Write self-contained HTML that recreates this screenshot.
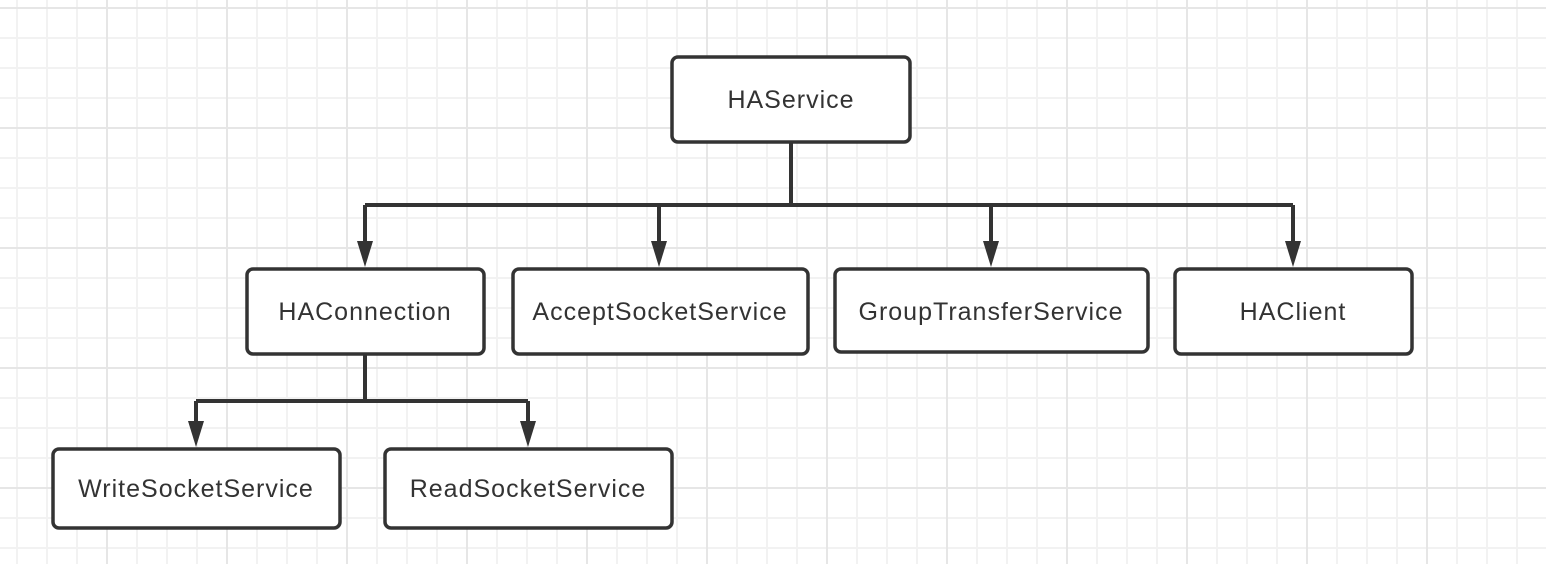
<!DOCTYPE html>
<html><head><style>
html,body{margin:0;padding:0;}
body{width:1546px;height:564px;overflow:hidden;background:#fff;
background-image:
linear-gradient(to right,#e6e6e6 2px,transparent 2px),
linear-gradient(to bottom,#e6e6e6 2px,transparent 2px),
linear-gradient(to right,#f2f2f2 2px,transparent 2px),
linear-gradient(to bottom,#f2f2f2 2px,transparent 2px);
background-size:120px 120px,120px 120px,30px 30px,30px 30px;
background-position:106px 0,0 7px,16px 0,0 7px;}
svg{position:absolute;left:0;top:0}
text{font-family:"Liberation Sans",sans-serif;font-size:25px;letter-spacing:1px;fill:#333;text-anchor:middle;dominant-baseline:central}
</style></head><body>
<svg width="1546" height="564">
<g stroke="#333" stroke-width="4" fill="none">
<path d="M791 142V205M365 205H1293M365 205V245M659 205V245M991 205V245M1293 205V245"/>
<path d="M365 354V401M196 401H528M196 401V425M528 401V425"/>
</g>
<g fill="#333">
<path d="M357 241H373L365 267Z"/><path d="M651 241H667L659 267Z"/><path d="M983 241H999L991 267Z"/><path d="M1285 241H1301L1293 267Z"/>
<path d="M188 421H204L196 447Z"/><path d="M520 421H536L528 447Z"/>
</g>
<g stroke="#333" stroke-width="3.5" fill="#fff">
<rect x="672" y="57" width="238" height="85" rx="6"/>
<rect x="247" y="269" width="237" height="85" rx="6"/>
<rect x="513" y="269" width="295" height="85" rx="6"/>
<rect x="835" y="269" width="313" height="83" rx="6"/>
<rect x="1175" y="269" width="237" height="85" rx="6"/>
<rect x="53" y="449" width="287" height="79" rx="6"/>
<rect x="385" y="449" width="287" height="79" rx="6"/>
</g>
<text x="791" y="100">HAService</text>
<text x="365" y="312">HAConnection</text>
<text x="660" y="312">AcceptSocketService</text>
<text x="991" y="312">GroupTransferService</text>
<text x="1293" y="312">HAClient</text>
<text x="196" y="489">WriteSocketService</text>
<text x="528" y="489">ReadSocketService</text>
</svg>
</body></html>
